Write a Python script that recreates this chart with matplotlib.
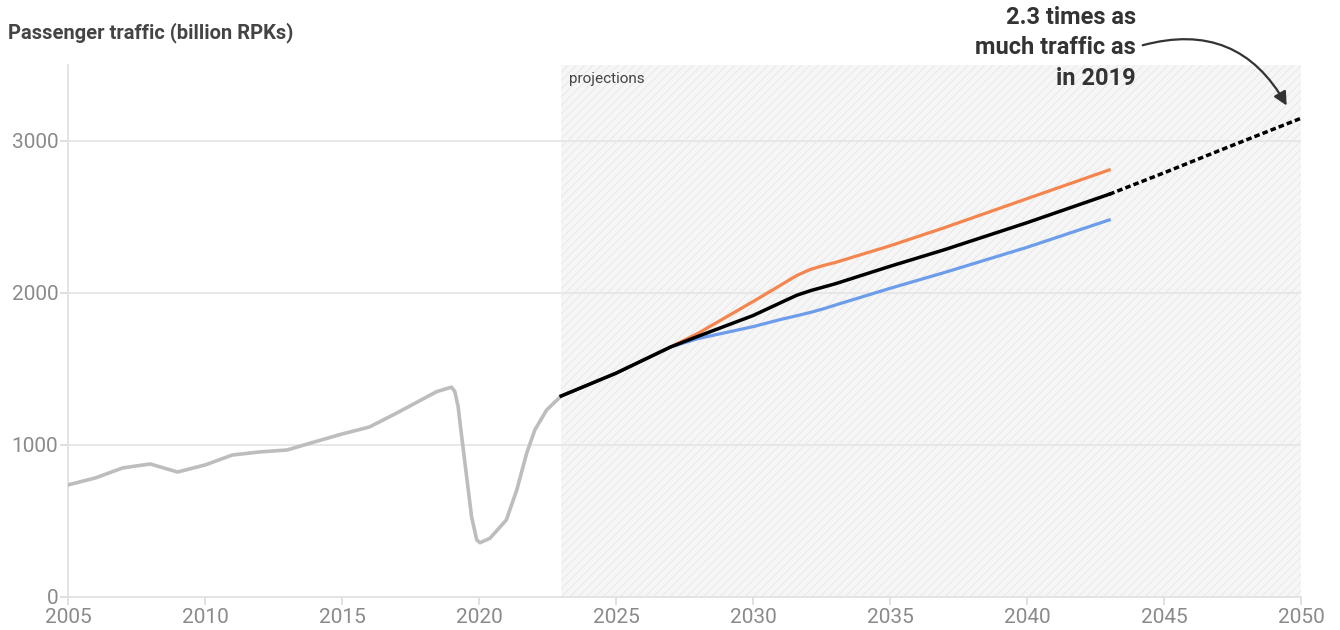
import matplotlib.pyplot as plt
from matplotlib.patches import FancyArrowPatch

plt.rcParams['font.family'] = ['Roboto', 'DejaVu Sans']
plt.rcParams['hatch.linewidth'] = 0.6
plt.rcParams['hatch.color'] = '#e4e4e4'

# historical traffic, billion RPKs
hist_years = [2005, 2006, 2007, 2008, 2009, 2010, 2011, 2012, 2013, 2014, 2015,
              2016, 2017, 2017.85, 2018.46, 2019, 2019.12, 2019.24, 2019.37,
              2019.55, 2019.73, 2019.92, 2020.04, 2020.4, 2021, 2021.38,
              2021.74, 2022.04, 2022.47, 2023]
hist_vals = [737, 783, 849, 875, 822, 868, 934, 954, 967, 1020, 1072,
             1118, 1210, 1292, 1351, 1380, 1351, 1252, 1055,
             792, 528, 375, 357, 386, 507, 704,
             945, 1099, 1230, 1322]

# projection scenarios
proj_years = [2023, 2025, 2027, 2028, 2030, 2031, 2031.6, 2032.1, 2032.6, 2033,
              2035, 2037, 2040, 2043]
high = [1322, 1472, 1645, 1735, 1943, 2050, 2115, 2155, 2182, 2200,
        2310, 2430, 2620, 2809]
base = [1322, 1472, 1645, 1715, 1851, 1935, 1985, 2015, 2040, 2060,
        2175, 2285, 2462, 2649]
low = [1322, 1472, 1645, 1700, 1778, 1825, 1850, 1872, 1897, 1920,
       2030, 2135, 2300, 2480]

ext_years = [2043, 2045, 2047, 2050]
ext_vals = [2649, 2790, 2935, 3149]

fig = plt.figure(figsize=(13.4, 6.3), dpi=100)
ax = fig.add_axes([0.0507, 0.0524, 0.9202, 0.8446])

ax.axvspan(2023, 2050, facecolor='#f6f6f6', hatch='////', edgecolor='#e6e6e6',
           linewidth=0, zorder=0)

for v in [1000, 2000, 3000]:
    ax.axhline(v, color='#e6e6e6', linewidth=1.3, zorder=1)

ax.plot(hist_years, hist_vals, color='#bdbdbd', linewidth=2.6,
        solid_joinstyle='round', solid_capstyle='round', zorder=3)
ax.plot(proj_years, high, color='#f5854e', linewidth=2.3, zorder=3,
        solid_joinstyle='round')
ax.plot(proj_years, low, color='#6d9ceb', linewidth=2.3, zorder=3,
        solid_joinstyle='round')
ax.plot(proj_years, base, color='black', linewidth=2.5, zorder=4,
        solid_joinstyle='round')
ax.plot(ext_years, ext_vals, color='black', linewidth=2.5, linestyle=(0, (1.6, 0.9)),
        zorder=4)

ax.set_xlim(2005, 2050)
ax.set_ylim(0, 3500)
ax.set_xticks(range(2005, 2051, 5))
ax.set_yticks([0, 1000, 2000, 3000])
ax.tick_params(axis='both', colors='#dddddd', labelcolor='#8a8a8a',
               labelsize=15, length=6, width=1.3)
ax.tick_params(axis='x', pad=2)
ax.tick_params(axis='y', pad=1)

for s in ['top', 'right']:
    ax.spines[s].set_visible(False)
for s in ['left', 'bottom']:
    ax.spines[s].set_color('#e2e2e2')
    ax.spines[s].set_linewidth(1.3)

fig.text(8 / 1340, 1 - 33 / 630, 'Passenger traffic (billion RPKs)', fontsize=14.5,
         fontweight='bold', color='#444444', va='center', ha='left')

ax.text(2023.3, 3410, 'projections', fontsize=11, color='#444444', va='center')

fig.text(1136 / 1340, 1 - 48 / 630, '2.3 times as\nmuch traffic as\nin 2019',
         fontsize=17, fontweight='bold', color='#333333', ha='right',
         va='center', linespacing=1.4)

arrow = FancyArrowPatch((1140 / 1340, 1 - 46 / 630), (1288 / 1340, 1 - 108 / 630),
                        transform=fig.transFigure,
                        connectionstyle='arc3,rad=-0.4', arrowstyle='-|>,head_length=8,head_width=4',
                        color='#333333', linewidth=1.6, mutation_scale=1)
fig.patches.append(arrow)

fig.savefig('out.png', dpi=100)
